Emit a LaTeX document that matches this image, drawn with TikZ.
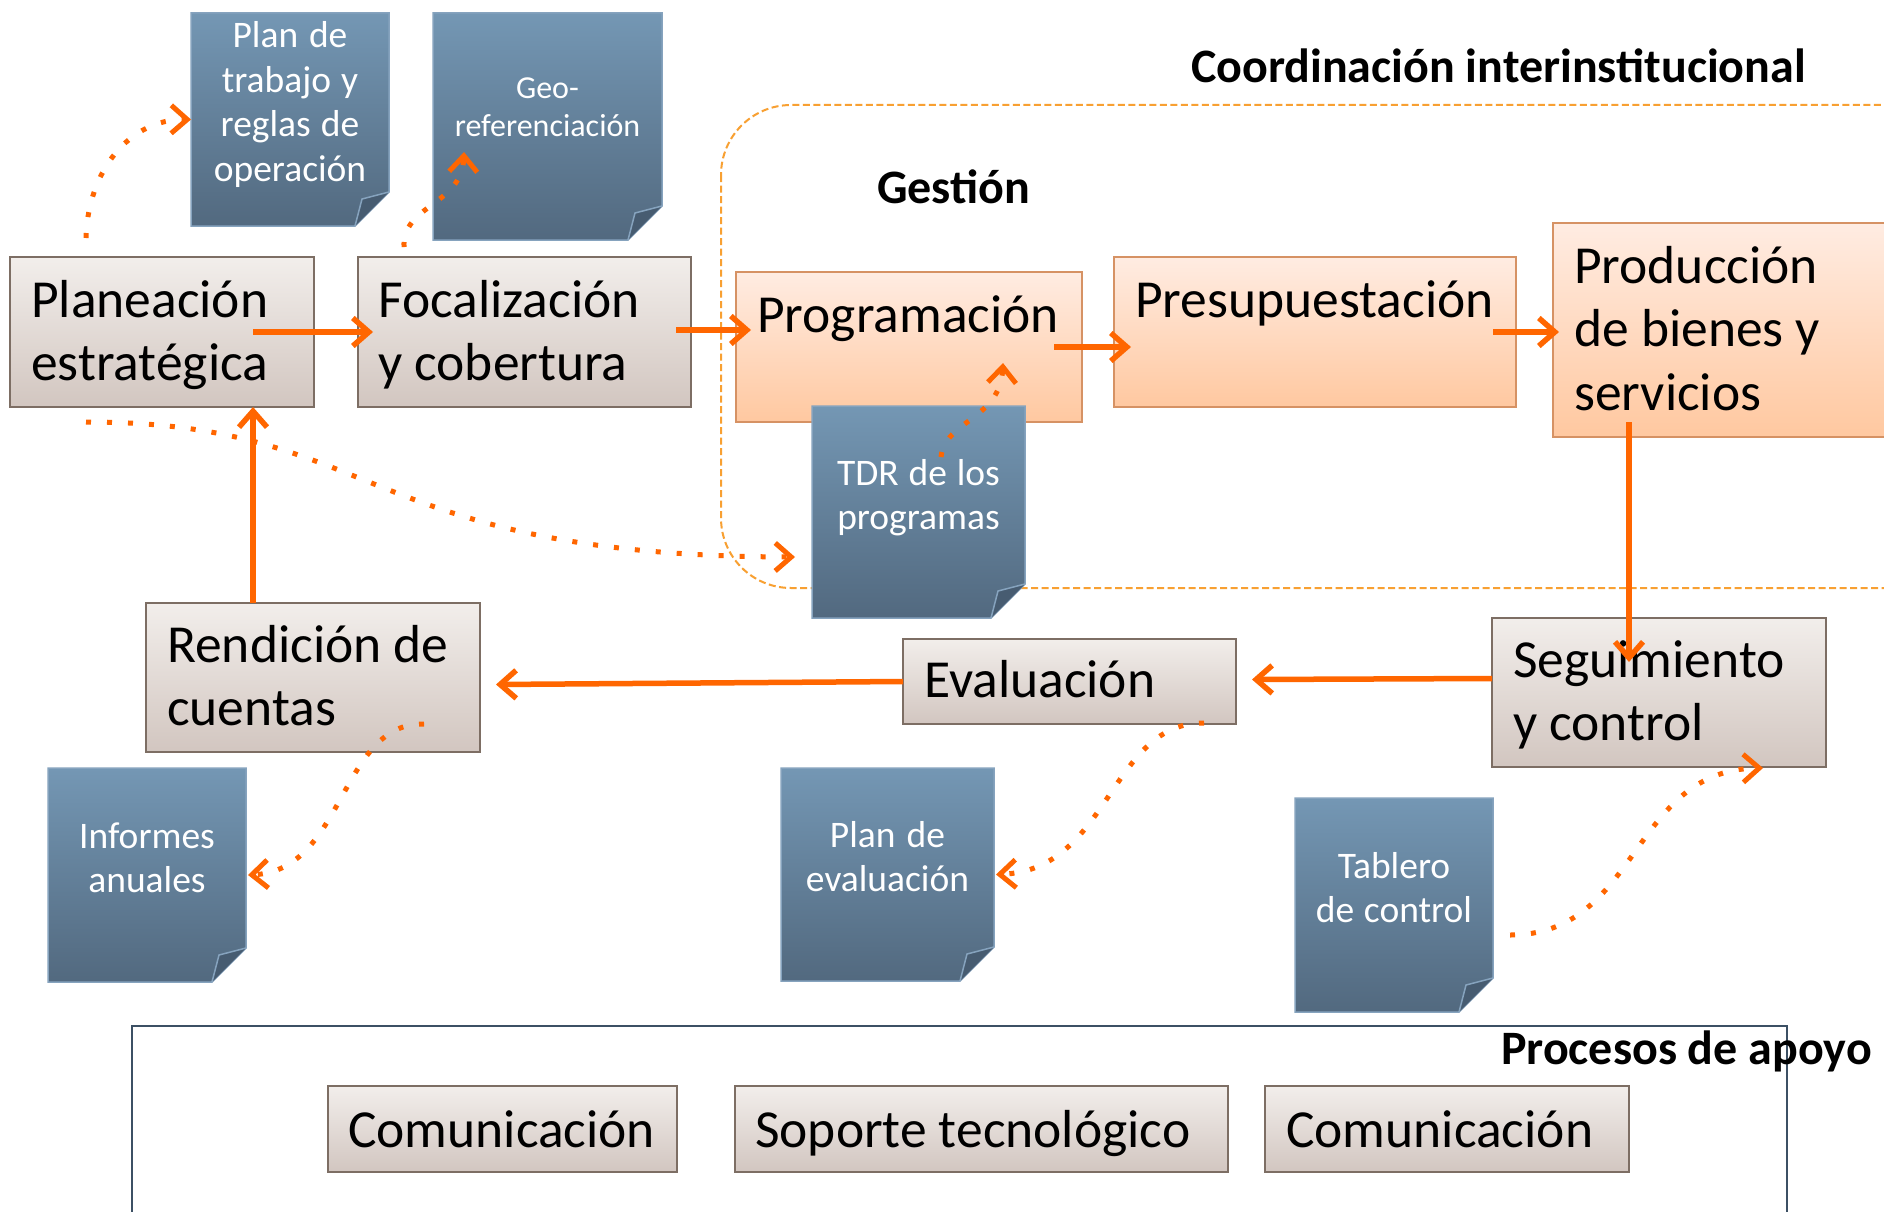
\documentclass[tikz,border=0pt]{standalone}
\usepackage{fontspec}
\setmainfont{Carlito}
\usetikzlibrary{arrows.meta}
\newcommand\natsp{\spaceskip=0pt\xspaceskip=0pt\relax}
\definecolor{arrorange}{HTML}{FF6600}
\definecolor{dashorange}{HTML}{F8A032}
\definecolor{greytop}{HTML}{F2EEEB}
\definecolor{greybot}{HTML}{D2C6C0}
\definecolor{greyline}{HTML}{7D6E64}
\definecolor{peachtop}{HTML}{FFECE2}
\definecolor{peachbot}{HTML}{FFC8A0}
\definecolor{peachline}{HTML}{D69264}
\definecolor{doctop}{HTML}{7497B4}
\definecolor{docbot}{HTML}{52697F}
\definecolor{docline}{HTML}{86A3BE}
\definecolor{docfold}{HTML}{475C71}
\definecolor{frameline}{HTML}{3C5064}
\tikzset{
  greybox/.style={rectangle, draw=greyline, line width=2pt, top color=greytop, bottom color=greybot, inner sep=0pt, outer sep=0pt},
  peachbox/.style={rectangle, draw=peachline, line width=2pt, top color=peachtop, bottom color=peachbot, inner sep=0pt, outer sep=0pt},
  docbody/.style={top color=doctop, bottom color=docbot, draw=docline, line width=1.5pt},
  docanchor/.style={rectangle, inner sep=0pt, outer sep=0pt},
  bigtxt/.style={anchor=base west, inner sep=0pt, text width=540pt, align=left, font=\fontsize{53.5}{63.5}\selectfont},
  doctxt/.style={anchor=base, inner sep=0pt, align=center, text=white, font=\fontsize{37.5}{44.5}\selectfont},
  titletxt/.style={inner sep=0pt, font=\fontsize{48}{56}\selectfont\bfseries},
  solidarr/.style={draw=arrorange, line width=5.5pt, -{Straight Barb[length=16pt,width=28pt]}},
  dotarr/.style={draw=arrorange, line width=5pt, line cap=butt, dash pattern=on 5pt off 16pt, -{Straight Barb[length=16pt,width=28pt]}},
  dashbox/.style={draw=dashorange, line width=2pt, dash pattern=on 7pt off 3.5pt, rounded corners=70pt},
  framebox/.style={draw=frameline, line width=2.5pt}
}
\newcommand\docpage[5]{%
  \path[docbody] (#2,#3) -- (#4,#3) -- (#4,#5-34) -- (#4-34,#5) -- (#2,#5) -- cycle;
  \fill[docfold] (#4-34,#5) -- (#4-27,#5-27) -- (#4,#5-34) -- cycle;
  \draw[docline, line width=1.5pt] (#4-34,#5) -- (#4-27,#5-27) -- (#4,#5-34);
  \node[docanchor, minimum width={(#4-#2)*1pt}, minimum height={(#5-#3)*1pt}] (#1) at ({(#2+#4)/2},{(#3+#5)/2}) {};
}
\begin{document}
\begin{tikzpicture}[x=1pt,y=-1pt]
\useasboundingbox (0,0) rectangle (1884,1212);
\clip (0,0) rectangle (1884,1212);
\fill[white] (0,0) rectangle (1884,1212);

% regions
\draw[dashbox] (721,105) rectangle (1990,588);
\draw[framebox] (132,1026) rectangle (1787,1300);

% process boxes
\node[greybox, minimum width=304pt, minimum height=150pt] (plan) at (162,332) {};
\node[greybox, minimum width=333pt, minimum height=150pt] (foc) at (524.5,332) {};
\node[peachbox, minimum width=346pt, minimum height=150pt] (prog) at (909,347) {};
\node[peachbox, minimum width=402pt, minimum height=150pt] (pres) at (1315,332) {};
\node[peachbox, minimum width=407pt, minimum height=214pt] (prod) at (1756.5,330) {};
\node[greybox, minimum width=334pt, minimum height=149pt] (rend) at (313,677.5) {};
\node[greybox, minimum width=333pt, minimum height=85pt] (eval) at (1069.5,681.5) {};
\node[greybox, minimum width=334pt, minimum height=149pt] (seg) at (1659,692.5) {};
\node[greybox, minimum width=349pt, minimum height=86pt] (com1) at (502.5,1129) {};
\node[greybox, minimum width=493pt, minimum height=86pt] (sop) at (981.5,1129) {};
\node[greybox, minimum width=364pt, minimum height=86pt] (com2) at (1447,1129) {};

% documents
\docpage{pdoc}{191}{13}{389}{226}
\docpage{geo}{433}{13}{662}{240}
\docpage{tdr}{812}{406}{1025}{618}
\docpage{inf}{48}{768}{246}{982}
\docpage{peval}{781}{768}{994}{981}
\docpage{tab}{1295}{798}{1493}{1012}

% box texts
\node[bigtxt] (t-plan) at (31,317) {\natsp Planeación\\estratégica};
\node[bigtxt] (t-foc) at (378,317) {\natsp Focalización\\y cobertura};
\node[bigtxt] (t-prog) at (757,332) {\natsp Programación};
\node[bigtxt] (t-pres) at (1135,317) {\natsp Presupuestación};
\node[bigtxt] (t-prod) at (1574,283) {\natsp Producción\\de bienes y\\servicios};
\node[bigtxt] (t-rend) at (167,662) {\natsp Rendición de\\cuentas};
\node[bigtxt] (t-eval) at (924,697) {\natsp Evaluación};
\node[bigtxt] (t-seg) at (1513,677) {\natsp Seguimiento\\y control};
\node[bigtxt] (t-com1) at (348,1147) {\natsp Comunicación};
\node[bigtxt] (t-sop) at (755,1147) {\natsp Soporte tecnológico};
\node[bigtxt] (t-com2) at (1286,1147) {\natsp Comunicación};

% document texts
\node[doctxt, text width=198pt] (t-pdoc) at (290,48) {\natsp Plan de\\trabajo y\\reglas de\\operación};
\node[doctxt, text width=229pt, font=\fontsize{32}{38}\selectfont] (t-geo) at (547.5,99) {\natsp Geo-\\referenciación};
\node[doctxt, text width=213pt] (t-tdr) at (918.5,485) {\natsp TDR de los\\programas};
\node[doctxt, text width=198pt] (t-inf) at (147,848) {\natsp Informes\\anuales};
\node[doctxt, text width=213pt] (t-peval) at (887.5,847) {\natsp Plan de\\evaluación};
\node[doctxt, text width=198pt] (t-tab) at (1394,878) {\natsp Tablero\\de control};

% titles
\node[titletxt, anchor=base east] (t-coord) at (1806,83) {Coordinación interinstitucional};
\node[titletxt, anchor=base west] (t-gest) at (877,203) {Gestión};
\node[titletxt, anchor=base east] (t-apoyo) at (1872,1064) {Procesos de apoyo};

% solid connectors
\draw[solidarr] ([shift={(-61,0)}]plan.east) -- ([shift={(15,0)}]foc.west);
\draw[solidarr] ([shift={(-15,-2)}]foc.east) -- ([shift={(15,-17)}]prog.west);
\draw[solidarr] ([shift={(-28,0)}]prog.east) -- ([shift={(17,15)}]pres.west);
\draw[solidarr] ([shift={(-23,0)}]pres.east) -- ([shift={(6,2)}]prod.west);
\draw[solidarr] ([shift={(76,-15)}]prod.south west) -- ([shift={(137,44)}]seg.north west);
\draw[solidarr] ([shift={(107,0)}]rend.north west) -- ([shift={(243,0)}]plan.south west);
\draw[solidarr] (eval.west) -- ([shift={(16,7)}]rend.east);
\draw[solidarr] ([shift={(0,-14)}]seg.west) -- ([shift={(16,-2)}]eval.east);

% dotted connectors
\draw[dotarr] ([shift={(76,-19)}]plan.north west) .. controls (88,170) and (130,119) .. (pdoc.west);
\draw[dotarr] ([shift={(46,-10)}]foc.north west) .. controls (402,205) and (462,205) .. ([shift={(31,139)}]geo.north west);
\draw[dotarr] ([shift={(76,15)}]plan.south west) .. controls (380,422) and (360,556) .. ([shift={(-17,45)}]tdr.west);
\draw[dotarr] ([shift={(129,51)}]tdr.north west) .. controls (945,420) and (1000,420) .. ([shift={(267,-59)}]prog.south west);
\draw[dotarr] ([shift={(278,-28)}]rend.south west) .. controls (340,722) and (345,870) .. ([shift={(2,0)}]inf.east);
\draw[dotarr] ([shift={(301,-1)}]eval.south west) .. controls (1110,722) and (1110,870) .. ([shift={(2,0)}]peval.east);
\draw[dotarr] ([shift={(17,30)}]tab.east) .. controls (1640,935) and (1630,770) .. ([shift={(271,1)}]seg.south west);
\end{tikzpicture}
\end{document}
